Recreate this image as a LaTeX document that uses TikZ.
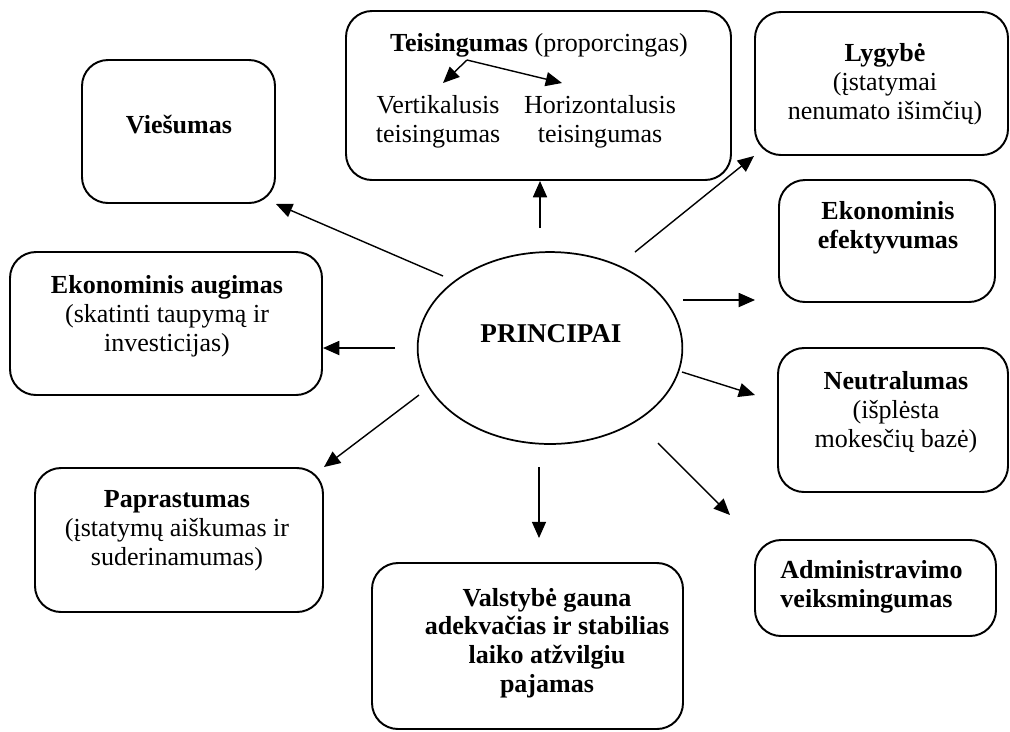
\documentclass[tikz,border=0pt]{standalone}
\usepackage{fontspec}
\setmainfont{Liberation Serif}
\usetikzlibrary{arrows.meta,shapes.geometric,fit}
\tikzset{
  box/.style={draw, line width=0.9pt, rounded corners=12pt, inner sep=0pt},
  txt/.style={align=center, inner sep=0pt, font=\fontsize{12}{13.3}\selectfont},
  arr/.style={line width=0.65pt, -{Triangle[length=7.5pt,width=6.5pt]}},
}
\begin{document}
\begin{tikzpicture}[x=0.0162cm, y=-0.0162cm]
\useasboundingbox (0,0) rectangle (1010,731);

% central ellipse
\node[draw, line width=0.8pt, ellipse, minimum width=4.29cm, minimum height=3.11cm, inner sep=0pt] (core) at (550,348) {};
\node[txt, font=\fontsize{12.5}{14}\selectfont] (coretxt) at (551,334) {\textbf{PRINCIPAI}};

% boxes
\node[box, fit={(346,11) (731,180)}] (teis) {};
\node[box, fit={(755,12) (1008,155)}] (lyg) {};
\node[box, fit={(779,180) (995,302)}] (efek) {};
\node[box, fit={(82,60) (275,203)}] (vies) {};
\node[box, fit={(10,252) (322,395)}] (aug) {};
\node[box, fit={(35,468) (323,612)}] (papr) {};
\node[box, fit={(372,563) (683,729)}] (valst) {};
\node[box, fit={(778,348) (1008,492)}] (neut) {};
\node[box, fit={(755,540) (996,636)}] (adm) {};

% texts
\node[txt] (teistitle) at (539,45) {\textbf{Teisingumas} (proporcingas)};
\node[txt] (vert) at (438,122) {Vertikalusis\\teisingumas};
\node[txt] (horiz) at (600,122) {Horizontalusis\\teisingumas};
\node[txt] (lygtxt) at (885,84) {\textbf{Lygybė}\\(įstatymai\\nenumato išimčių)};
\node[txt] (efektxt) at (888,228) {\textbf{Ekonominis}\\\textbf{efektyvumas}};
\node[txt] (viestxt) at (179,125) {\textbf{Viešumas}};
\node[txt] (augtxt) at (167,316) {\textbf{Ekonominis augimas}\\(skatinti taupymą ir\\investicijas)};
\node[txt] (paprtxt) at (177,531) {\textbf{Paprastumas}\\(įstatymų aiškumas ir\\suderinamumas)};
\node[txt] (valsttxt) at (547,643) {\textbf{Valstybė gauna}\\\textbf{adekvačias ir stabilias}\\\textbf{laiko atžvilgiu}\\\textbf{pajamas}};
\node[txt] (neuttxt) at (896,412) {\textbf{Neutralumas}\\(išplėsta\\mokesčių bazė)};
\node[txt, align=left, anchor=west] (admtxt) at (780,587) {\textbf{Administravimo}\\\textbf{veiksmingumas}};

% arrows inside the Teisingumas box
\coordinate (tsplit) at (467,60);
\coordinate (tvert) at (443,83);
\coordinate (thoriz) at (562,83);
\draw[arr] (tsplit) -- (tvert);
\draw[arr] (tsplit) -- (thoriz);

% connector start points around the ellipse
\coordinate (sVies) at (443,276);
\coordinate (sTeis) at (540,228);
\coordinate (sLyg) at (635,252);
\coordinate (sEfek) at (683,300);
\coordinate (sNeut) at (682,372);
\coordinate (sAdm) at (658,443);
\coordinate (sValst) at (539,467);
\coordinate (sAug) at (395,348);
\coordinate (sPapr) at (419,395);

% connector end points that stop short of the boxes
\coordinate (eTeis) at (540,181);
\coordinate (eEfek) at (755,300);
\coordinate (eNeut) at (755,395);
\coordinate (eAdm) at (730,515);
\coordinate (eValst) at (539,538);
\coordinate (eAug) at (323,348);

\draw[arr] (sVies) -- (vies.south east);
\draw[arr] (sTeis) -- (eTeis);
\draw[arr] (sLyg) -- (lyg.south west);
\draw[arr] (sEfek) -- (eEfek);
\draw[arr] (sNeut) -- (eNeut);
\draw[arr] (sAdm) -- (eAdm);
\draw[arr] (sValst) -- (eValst);
\draw[arr] (sAug) -- (eAug);
\draw[arr] (sPapr) -- (papr.north east);
\end{tikzpicture}
\end{document}
